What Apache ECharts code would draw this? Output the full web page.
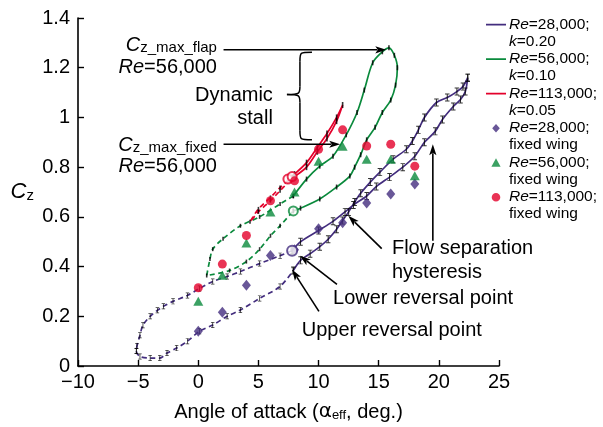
<!DOCTYPE html>
<html><head><meta charset="utf-8">
<script src="https://cdn.jsdelivr.net/npm/echarts/dist/echarts.min.js"></script>
<style>html,body{margin:0;padding:0;background:#fff}#c{width:603px;height:427px}</style>
</head><body><div id="c"></div>
<script>
// ---------- DATA ----------
// Re=28,000; k=0.20 (flapping loop)
const p28AscDashA  = [-5.15, -4.85, -4.0, -3.2, -2.6, -1.8, -0.9, 0.1, 1.2, 2.4, 3.5, 5.1, 6.8, 7.9];
const p28AscDashC  = [0.06, 0.038, 0.032, 0.032, 0.052, 0.072, 0.10, 0.14, 0.165, 0.20, 0.225, 0.272, 0.32, 0.384];
const p28AscSolidA = [7.9, 8.5, 9.3, 10.1, 10.8, 11.5, 12.0, 12.5, 13.0, 13.5, 14.3, 15.1, 16.2, 17.3, 17.8, 18.3, 18.8, 19.8, 20.7, 21.5, 22.0, 22.4];
const p28AscSolidC = [0.384, 0.425, 0.452, 0.48, 0.51, 0.55, 0.585, 0.62, 0.66, 0.695, 0.74, 0.78, 0.832, 0.872, 0.905, 0.95, 1.0, 1.06, 1.08, 1.104, 1.124, 1.16];
const p28DescSolidA = [22.4, 22.2, 21.8, 21.2, 20.3, 19.7, 18.8, 18.0, 17.0, 15.9, 14.8, 14.0, 12.9, 12.2, 11.2, 10.0, 8.5, 7.8];
const p28DescSolidC = [1.16, 1.104, 1.072, 1.044, 0.992, 0.944, 0.90, 0.844, 0.80, 0.76, 0.722, 0.684, 0.648, 0.62, 0.582, 0.545, 0.50, 0.464];
const p28DescDashA = [7.8, 6.8, 5.1, 3.5, 2.4, 1.2, 0.1, -0.9, -2.1, -2.9, -3.4, -4.0, -4.6, -4.85, -5.1, -5.15];
const p28DescDashC = [0.464, 0.444, 0.412, 0.38, 0.36, 0.34, 0.312, 0.284, 0.26, 0.24, 0.224, 0.20, 0.164, 0.124, 0.08, 0.06];
// Re=56,000; k=0.10
const g56AscDashA  = [0.7, 2.6, 4.0, 5.1, 6.0, 6.8, 7.9];
const g56AscDashC  = [0.364, 0.384, 0.42, 0.47, 0.524, 0.564, 0.624];
const g56AscSolidA = [7.9, 8.5, 10.1, 11.5, 12.6, 13.0, 13.5, 14.0, 14.7, 15.3, 16.0, 16.4, 16.55, 16.3, 15.85];
const g56AscSolidC = [0.624, 0.635, 0.672, 0.72, 0.764, 0.80, 0.85, 0.91, 0.96, 1.02, 1.07, 1.13, 1.2, 1.25, 1.28];
const g56DescSolidA = [15.85, 15.3, 14.5, 13.8, 13.2, 12.3, 11.2, 10.1, 9.0, 7.9];
const g56DescSolidC = [1.28, 1.264, 1.22, 1.11, 1.02, 0.93, 0.844, 0.804, 0.752, 0.684];
const g56DescDashA = [7.9, 6.8, 5.1, 3.5, 2.06, 1.2, 0.97, 0.7];
const g56DescDashC = [0.684, 0.652, 0.60, 0.564, 0.512, 0.47, 0.43, 0.364];
// Re=113,000; k=0.05
const r113AscDashA  = [4.3, 5.0, 6.0, 6.8, 7.6, 8.0];
const r113AscDashC  = [0.58, 0.62, 0.665, 0.705, 0.745, 0.762];
const r113AscSolidA = [8.0, 9.0, 9.9, 10.7, 11.5, 12.0];
const r113AscSolidC = [0.762, 0.80, 0.862, 0.915, 0.985, 1.05];
const r113DescSolidA = [12.0, 11.5, 10.7, 9.9, 9.0, 8.0];
const r113DescSolidC = [1.05, 1.0, 0.935, 0.88, 0.818, 0.772];
const r113DescDashA = [8.0, 7.8, 6.8, 6.0, 5.0, 4.3];
const r113DescDashC = [0.772, 0.762, 0.718, 0.678, 0.632, 0.58];
// reversal points (open circles)
const p28RevA = [7.8],  p28RevC = [0.464];
const g56RevA = [7.9],  g56RevC = [0.624];
const r113RevA = [7.45, 7.8], r113RevC = [0.752, 0.762];
// fixed wing
const fixedAlpha = [0, 2, 4, 6, 8, 10, 12, 14, 16, 18];
const fixed28  = [0.14, 0.216, 0.325, 0.445, 0.468, 0.552, 0.576, 0.656, 0.692, 0.732];
const fixed56  = [0.26, 0.365, 0.495, 0.62, 0.70, 0.824, 0.884, 0.832, 0.832, 0.765];
const fixed113 = [0.315, 0.41, 0.525, 0.665, 0.745, 0.872, 0.95, 0.885, 0.892, 0.804];
// axes
const xMin = -10, xMax = 25, xStep = 5;
const yMin = 0, yMax = 1.4, yStep = 0.2;
// series names / legend labels
const seriesNames = ['Re=28,000; k=0.20', 'Re=56,000; k=0.10', 'Re=113,000; k=0.05',
  'Re=28,000; fixed wing', 'Re=56,000; fixed wing', 'Re=113,000; fixed wing'];
const legendLabels = ['{i|Re}=28,000;\n{i|k}=0.20', '{i|Re}=56,000;\n{i|k}=0.10', '{i|Re}=113,000;\n{i|k}=0.05',
  '{i|Re}=28,000;\nfixed wing', '{i|Re}=56,000;\nfixed wing', '{i|Re}=113,000;\nfixed wing'];

// ---------- CHART ----------
const FONT = '"Liberation Sans", Arial, Helvetica, sans-serif';
const PURPLE = '#432d7e', GREEN = '#0a8a3c', RED = '#e3002b';
const zip = (a, c) => a.map((v, i) => [v, c[i]]);
const solid = (a1, c1, a2, c2) => zip(a1, c1).concat(zip(a2, c2).slice(1));

const IBEAM = 'path://M0,0H6V1.2H3.7V8.8H6V10H0V8.8H2.3V1.2H0Z';
const legendIcons = {
  line: 'path://M0,0h0.01v0.01h-0.01z M19.99,33.99h0.01v0.01h-0.01z M0,7.7h20v1.7h-20z',
  diamond: 'path://M0,0h0.01v0.01h-0.01z M19.99,33.99h0.01v0.01h-0.01z M10,4.5L13.8,8.8L10,13.1L6.2,8.8Z',
  triangle: 'path://M0,0h0.01v0.01h-0.01z M19.99,33.99h0.01v0.01h-0.01z M10,4.3L14.6,12.8L5.4,12.8Z',
  circle: 'path://M0,0h0.01v0.01h-0.01z M19.99,33.99h0.01v0.01h-0.01z M14.3,8.8A4.3,4.3 0 1 1 5.7,8.8A4.3,4.3 0 1 1 14.3,8.8Z'
};

function loopSeries(name, color, dash1, solid1, marksSolid, marksDash) {
  return [
    { name, type: 'line', data: solid1, smooth: 0.3, symbol: 'none', color, z: 3,
      lineStyle: { color, width: 1.7 } },
    { name, type: 'line', data: dash1, smooth: 0.3, symbol: 'none', color, z: 3,
      lineStyle: { color, width: 1.7, type: [5, 3.5] } },
    { type: 'scatter', data: marksSolid.data, symbol: marksSolid.symbol, symbolSize: marksSolid.size,
      itemStyle: { color: '#000' }, z: 4, silent: true },
    { type: 'scatter', data: marksDash.data, symbol: marksDash.symbol, symbolSize: marksDash.size,
      itemStyle: { color: '#000' }, z: 4, silent: true }
  ];
}

const p28Solid = solid(p28AscSolidA, p28AscSolidC, p28DescSolidA, p28DescSolidC);
const p28Dash = solid(p28DescDashA, p28DescDashC, p28AscDashA, p28AscDashC);
const g56Solid = solid(g56AscSolidA, g56AscSolidC, g56DescSolidA, g56DescSolidC);
const g56Dash = solid(g56DescDashA, g56DescDashC, g56AscDashA, g56AscDashC);
const r113Solid = solid(r113AscSolidA, r113AscSolidC, r113DescSolidA, r113DescSolidC);
const r113Dash = solid(r113DescDashA, r113DescDashC, r113AscDashA, r113AscDashC);

const series = [].concat(
  loopSeries(seriesNames[0], PURPLE, p28Dash, p28Solid,
    { data: zip(p28DescSolidA, p28DescSolidC).concat(zip(p28AscSolidA, p28AscSolidC)), symbol: IBEAM, size: [4.5, 8] },
    { data: zip(p28DescDashA, p28DescDashC).concat(zip(p28AscDashA, p28AscDashC)), symbol: IBEAM, size: [3.5, 6] }),
  loopSeries(seriesNames[1], GREEN, g56Dash, g56Solid,
    { data: g56Solid, symbol: 'rect', size: [1.6, 5] },
    { data: g56Dash, symbol: 'rect', size: [1.6, 4] }),
  loopSeries(seriesNames[2], RED, r113Dash, r113Solid,
    { data: r113Solid, symbol: 'rect', size: [1.6, 6] },
    { data: r113Dash, symbol: 'rect', size: [1.6, 4] }),
  [
    { type: 'scatter', data: zip(p28RevA, p28RevC), symbol: 'emptyCircle', symbolSize: 10, z: 7,
      itemStyle: { color: PURPLE, borderColor: PURPLE, borderWidth: 2 }, silent: true },
    { type: 'scatter', data: zip(g56RevA, g56RevC), symbol: 'emptyCircle', symbolSize: 9, z: 5,
      itemStyle: { color: GREEN, borderColor: GREEN, borderWidth: 2 }, silent: true },
    { type: 'scatter', data: zip(r113RevA, r113RevC), symbol: 'emptyCircle', symbolSize: 9, z: 5,
      itemStyle: { color: RED, borderColor: RED, borderWidth: 1.6 }, silent: true },
    { name: seriesNames[3], type: 'scatter', data: zip(fixedAlpha, fixed28), symbol: 'diamond', symbolSize: [9, 11],
      color: PURPLE, itemStyle: { color: PURPLE }, z: 6 },
    { name: seriesNames[4], type: 'scatter', data: zip(fixedAlpha, fixed56), symbol: 'triangle', symbolSize: [10, 9],
      color: GREEN, itemStyle: { color: GREEN }, z: 6 },
    { name: seriesNames[5], type: 'scatter', data: zip(fixedAlpha, fixed113), symbol: 'circle', symbolSize: 9,
      color: RED, itemStyle: { color: RED }, z: 6 }
  ]
);

const chart = echarts.init(document.getElementById('c'), null, { renderer: 'canvas' });
const legendColors = [PURPLE, GREEN, RED, PURPLE, GREEN, RED];
const legendIconKeys = ['line', 'line', 'line', 'diamond', 'triangle', 'circle'];

chart.setOption({
  animation: false,
  backgroundColor: '#fff',
  textStyle: { fontFamily: FONT },
  grid: { left: 78, right: 104, top: 18, bottom: 59, containLabel: false },
  xAxis: {
    type: 'value', min: xMin, max: xMax, interval: xStep,
    axisLine: { onZero: false, lineStyle: { color: '#000', width: 1.6 } },
    axisTick: { inside: true, length: 6, lineStyle: { color: '#000', width: 1.4 } },
    splitLine: { show: false },
    axisLabel: { color: '#000', fontSize: 20, fontFamily: FONT, margin: 6,
      formatter: v => (v < 0 ? '\u2212' + (-v) : String(v)) },
    name: '{a|Angle of attack (}{g|\u03b1}{s|eff}{a|, deg.)}',
    nameLocation: 'middle', nameGap: 36,
    nameTextStyle: { color: '#000', fontSize: 20, fontFamily: FONT,
      rich: { a: { fontSize: 20, fontFamily: FONT, color: '#000' },
              g: { fontSize: 20, fontFamily: 'DejaVu Sans', color: '#000' },
              s: { fontSize: 13, fontFamily: FONT, color: '#000', verticalAlign: 'bottom', padding: [6, 0, 0, 0] } } }
  },
  yAxis: {
    type: 'value', min: yMin, max: yMax, interval: yStep,
    axisLine: { show: true, onZero: false, lineStyle: { color: '#000', width: 1.6 } },
    axisTick: { show: true, inside: true, length: 6, lineStyle: { color: '#000', width: 1.4 } },
    splitLine: { show: false },
    axisLabel: { color: '#000', fontSize: 20, fontFamily: FONT, margin: 8,
      formatter: v => String(+v.toFixed(1)) },
    name: '{c|C}{z|z}', nameLocation: 'middle', nameRotate: 0, nameGap: 44,
    nameTextStyle: { color: '#000', fontSize: 20, fontFamily: FONT,
      rich: { c: { fontSize: 22, fontStyle: 'italic', fontFamily: FONT, color: '#000' },
              z: { fontSize: 15, fontFamily: FONT, color: '#000', verticalAlign: 'bottom', padding: [6, 0, 0, 0] } } }
  },
  legend: {
    orient: 'vertical', left: 486, top: 16, padding: 0,
    itemWidth: 20, itemHeight: 34, itemGap: 0.5, symbolKeepAspect: true,
    selectedMode: false,
    data: seriesNames.map((n, i) => ({ name: n, icon: legendIcons[legendIconKeys[i]], itemStyle: { color: legendColors[i], borderWidth: 0 } })),
    formatter: n => legendLabels[seriesNames.indexOf(n)],
    itemStyle: { borderWidth: 0 },
    textStyle: { color: '#000', fontSize: 15.5, lineHeight: 17, fontFamily: FONT, padding: [0, 0, 0, -2],
      rich: { i: { fontSize: 15.5, lineHeight: 17, fontStyle: 'italic', fontFamily: FONT, color: '#000' } } }
  },
  series
});

// ---------- ANNOTATIONS (anchored in data coordinates) ----------
const annFlapArrow  = [[2.1, 1.272], [15.63, 1.272]];
const annFixedArrow = [[2.1, 0.892], [11.8, 0.892]];
const annFlowDiag   = [[15.25, 0.472], [12.47, 0.604]];
const annFlowVert   = [[19.5, 0.504], [19.5, 0.892]];
const annLowerRev   = [[11.53, 0.328], [8.45, 0.444]];
const annUpperRev   = [[10.03, 0.22], [7.79, 0.388]];
const annBrace = { xTip: 7.37, xStem: 8.45, xEnd: 9.45, yTop: 1.262, yMid: 1.092, yBot: 0.91 };

const P = (a, c) => chart.convertToPixel({ gridIndex: 0 }, [a, c]);
const LS = { stroke: '#000', lineWidth: 1.5, fill: null };
function arrow(seg) {
  const s = P(seg[0][0], seg[0][1]), t = P(seg[1][0], seg[1][1]);
  const dx = t[0] - s[0], dy = t[1] - s[1], L = Math.hypot(dx, dy), ux = dx / L, uy = dy / L;
  const hl = 11, hw = 3.6;
  const bx = t[0] - ux * hl, by = t[1] - uy * hl;
  return [
    { type: 'line', shape: { x1: s[0], y1: s[1], x2: bx + ux * 2, y2: by + uy * 2 }, style: { stroke: '#000', lineWidth: 1.6 }, z: 100 },
    { type: 'polygon', shape: { points: [t, [bx - uy * hw, by + ux * hw], [bx + ux * 2.5, by + uy * 2.5], [bx + uy * hw, by - ux * hw]] }, style: { fill: '#000' }, z: 100 }
  ];
}
function txt(a, c, text, align, extra) {
  const p = P(a, c);
  return { type: 'text', x: p[0], y: p[1], z: 100,
    style: Object.assign({ text, fill: '#000', fontSize: 20, fontFamily: FONT,
      align, verticalAlign: 'middle', textAlign: align, textVerticalAlign: 'middle' }, extra || {}) };
}
function bez(p0, c1, c2, p1) {
  return { type: 'bezierCurve', shape: { x1: p0[0], y1: p0[1], cpx1: c1[0], cpy1: c1[1], cpx2: c2[0], cpy2: c2[1], x2: p1[0], y2: p1[1] }, style: LS, z: 100 };
}
function seg(p0, p1) {
  return { type: 'line', shape: { x1: p0[0], y1: p0[1], x2: p1[0], y2: p1[1] }, style: LS, z: 100 };
}
const subRich = { c: { fontSize: 20, fontStyle: 'italic', fontFamily: FONT, fill: '#000' },
                  s: { fontSize: 15, fontFamily: FONT, fill: '#000', verticalAlign: 'bottom', padding: [5, 0, 0, 0] },
                  i: { fontSize: 20, fontStyle: 'italic', fontFamily: FONT, fill: '#000' } };

const b = annBrace;
const bt = P(b.xEnd, b.yTop), bm = P(b.xTip, b.yMid), bb = P(b.xEnd, b.yBot), bs = P(b.xStem, b.yMid);
const sx = bs[0];
const braceEls = [
  bez([bt[0], bt[1]], [sx, bt[1]], [sx, bt[1]], [sx, bt[1] + 9]),
  seg([sx, bt[1] + 9], [sx, bm[1] - 8]),
  bez([sx, bm[1] - 8], [sx, bm[1] - 1], [sx, bm[1]], [bm[0], bm[1]]),
  bez([bm[0], bm[1]], [sx, bm[1]], [sx, bm[1] + 1], [sx, bm[1] + 8]),
  seg([sx, bm[1] + 8], [sx, bb[1] - 9]),
  bez([sx, bb[1] - 9], [sx, bb[1]], [sx, bb[1]], [bb[0], bb[1]])
];

const graphics = [].concat(
  arrow(annFlapArrow), arrow(annFixedArrow), arrow(annFlowDiag), arrow(annFlowVert),
  arrow(annLowerRev), arrow(annUpperRev),
  braceEls,
  [
    txt(1.55, 1.29, '{c|C}{s|z_max_flap}', 'right', { rich: subRich }),
    txt(1.55, 1.2, '{i|Re}=56,000', 'right', { rich: subRich }),
    txt(1.55, 0.888, '{c|C}{s|z_max_fixed}', 'right', { rich: subRich }),
    txt(1.55, 0.804, '{i|Re}=56,000', 'right', { rich: subRich }),
    txt(6.2, 1.088, 'Dynamic', 'right'),
    txt(6.2, 0.996, 'stall', 'right'),
    txt(16.1, 0.472, 'Flow separation', 'left'),
    txt(16.1, 0.376, 'hysteresis', 'left'),
    txt(11.2, 0.272, 'Lower reversal point', 'left'),
    txt(8.6, 0.144, 'Upper reversal point', 'left')
  ]
);
chart.setOption({ graphic: graphics });
</script></body></html>
